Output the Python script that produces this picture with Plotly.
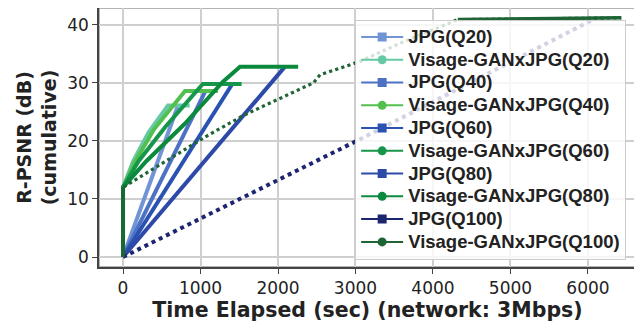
import plotly.graph_objects as go

# ---- data ----
names = ["JPG(Q20)", "Visage-GANxJPG(Q20)", "JPG(Q40)", "Visage-GANxJPG(Q40)",
         "JPG(Q60)", "Visage-GANxJPG(Q60)", "JPG(Q80)", "Visage-GANxJPG(Q80)",
         "JPG(Q100)", "Visage-GANxJPG(Q100)"]

jpg_q20_t = [0, 710]
jpg_q20_v = [0, 26.1]
vis_q20_t = [0, 0, 130, 330, 580, 860]
vis_q20_v = [0, 12, 16.5, 21.5, 26.1, 26.1]

jpg_q40_t = [0, 1060]
jpg_q40_v = [0, 28.5]
vis_q40_t = [0, 0, 150, 400, 800, 1225]
vis_q40_v = [0, 12, 16.3, 22.0, 28.6, 28.6]

jpg_q60_t = [0, 1410]
jpg_q60_v = [0, 29.8]
vis_q60_t = [0, 0, 200, 550, 1030, 1530]
vis_q60_v = [0, 12, 16.5, 22.5, 29.8, 29.8]

jpg_q80_t = [0, 1400, 2090]
jpg_q80_v = [0, 22.0, 32.8]
vis_q80_t = [0, 0, 300, 800, 1290, 1510, 2260]
vis_q80_v = [0, 12, 16.5, 23.0, 30.2, 32.8, 32.8]

jpg_q100_t = [0, 3060, 6080]
jpg_q100_v = [0, 20.3, 41.0]
vis_q100_t = [0, 0, 1100, 1570, 2457, 2543, 3060, 3570, 4320, 6430]
vis_q100_v = [0, 12, 21.0, 24.5, 30.0, 31.4, 33.7, 36.8, 40.9, 41.2]

xticks = [0, 1000, 2000, 3000, 4000, 5000, 6000]
yticks = [0, 10, 20, 30, 40]

colors = ["#7094d4", "#66c9a4", "#4d72c4", "#52bf4e", "#2a52b2",
          "#16964a", "#2d4aa8", "#0b8a3e", "#1c2670", "#1e6434"]
symbols = ["square", "circle"] * 5

series = [(jpg_q20_t, jpg_q20_v), (vis_q20_t, vis_q20_v),
          (jpg_q40_t, jpg_q40_v), (vis_q40_t, vis_q40_v),
          (jpg_q60_t, jpg_q60_v), (vis_q60_t, vis_q60_v),
          (jpg_q80_t, jpg_q80_v), (vis_q80_t, vis_q80_v),
          (jpg_q100_t, jpg_q100_v), (vis_q100_t, vis_q100_v)]

fig = go.Figure()

for i, (t, v) in enumerate(series):
    dotted = i >= 8
    fig.add_trace(go.Scatter(
        x=t, y=v, mode="lines", showlegend=False,
        line=dict(color=colors[i], width=4 if not dotted else (4 if i == 8 else 3.2),
                  dash="dot" if dotted else "solid"),
        hoverinfo="skip"))

# solid segments of the dense Visage Q100 trace (vertical start and final plateau)
fig.add_trace(go.Scatter(x=vis_q100_t[:2], y=vis_q100_v[:2], mode="lines", showlegend=False,
                         line=dict(color=colors[9], width=3.5)))
fig.add_trace(go.Scatter(x=vis_q100_t[-2:], y=vis_q100_v[-2:], mode="lines", showlegend=False,
                         line=dict(color=colors[9], width=3.5)))

# legend entries
for i, n in enumerate(names):
    fig.add_trace(go.Scatter(
        x=[None], y=[None], mode="lines+markers",
        name='<span style="font-size:18.5px"><b>' + n + '</b></span>',
        line=dict(color=colors[i], width=2),
        marker=dict(symbol=symbols[i], size=9, color=colors[i])))

# light frame on top/right
fig.add_shape(type="rect", xref="paper", yref="paper", x0=0, y0=0, x1=1, y1=1,
              line=dict(color="#9a9a9a", width=1.5), layer="below")

axis_common = dict(
    showgrid=True, gridcolor="#cfcfcf", gridwidth=1.5,
    zeroline=False, showline=True, linecolor="#444444", linewidth=1.5,
    ticks="outside", ticklen=5, tickcolor="#444444", tickwidth=1.2,
    tickfont=dict(family="DejaVu Sans", size=17, color="#222222"),
)

fig.update_layout(
    width=642, height=331,
    margin=dict(l=91, r=14, t=0, b=72),
    paper_bgcolor="white", plot_bgcolor="white",
    xaxis=dict(range=[-310, 6620], tickvals=xticks,
               title=dict(text="<b>Time Elapsed (sec) (network: 3Mbps)</b>",
                          font=dict(family="DejaVu Sans", size=20.5, color="#222222"),
                          standoff=2),
               **axis_common),
    yaxis=dict(range=[-1.72, 42.9], tickvals=yticks,
               title=dict(text="<b>R-PSNR (dB)<br>(cumulative)</b>",
                          font=dict(family="DejaVu Sans", size=19, color="#222222"),
                          standoff=6),
               **axis_common),
    legend=dict(x=0.477, y=0.955, xanchor="left", yanchor="top",
                bgcolor="rgba(255,255,255,0.8)", bordercolor="#cccccc", borderwidth=1,
                font=dict(family="Liberation Sans", size=15.2, color="#222222"),
                tracegroupgap=0, itemwidth=42),
)

fig.write_html("out.html")
